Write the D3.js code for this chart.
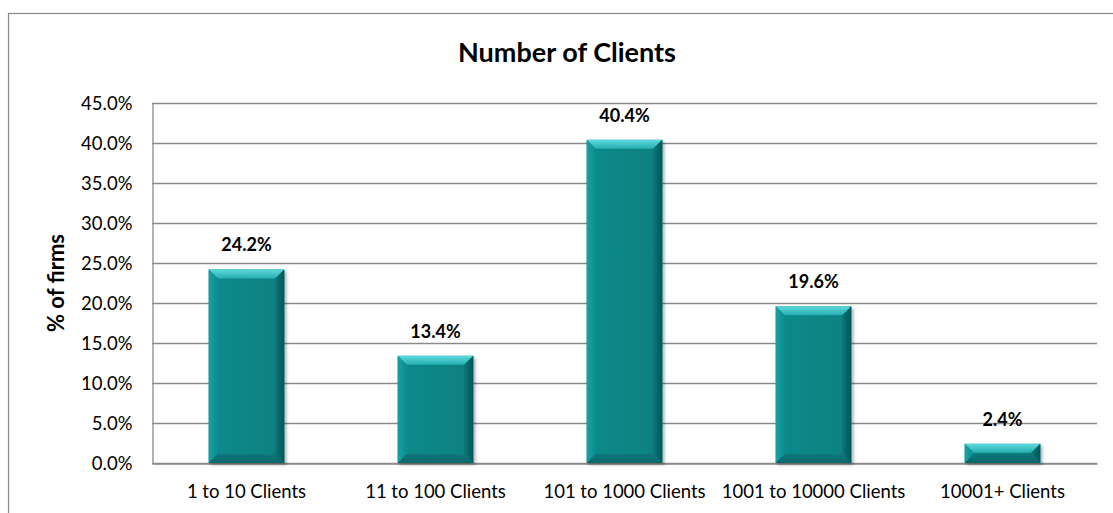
<!DOCTYPE html>
<html>
<head>
<meta charset="utf-8">
<script src="https://cdn.jsdelivr.net/npm/d3@7"></script>
<style>
html,body{margin:0;padding:0;background:#fff;}
svg{display:block;}
text{font-family:Lato,"Noto Sans",sans-serif;fill:#000;}
</style>
</head>
<body>
<svg id="chart" width="1113" height="513"></svg>
<script>
const categories = ["1 to 10 Clients","11 to 100 Clients","101 to 1000 Clients","1001 to 10000 Clients","10001+ Clients"];
const values = [24.2, 13.4, 40.4, 19.6, 2.4];
const yTicks = [0,5,10,15,20,25,30,35,40,45];
const title = "Number of Clients";
const yLabel = "% of firms";

const svg = d3.select("#chart");
const m = {left:152, right:1097, top:103, bottom:463};

// outer chart border (extends past right and bottom edges)
svg.append("rect").attr("x",8.5).attr("y",13.5).attr("width",1200).attr("height",600)
  .attr("fill","none").attr("stroke","#898989").attr("stroke-width",1.2);

const x = d3.scaleBand().domain(categories).range([m.left,m.right]).paddingInner(0.6).paddingOuter(0.3);
const y = d3.scaleLinear().domain([0,45]).range([m.bottom,m.top]);

const defs = svg.append("defs");
function lg(id, horiz, c0, c1){
  const g = defs.append("linearGradient").attr("id",id).attr("x1",0).attr("y1",0).attr("x2",horiz?1:0).attr("y2",horiz?0:1);
  g.append("stop").attr("offset","0%").attr("stop-color",c0);
  g.append("stop").attr("offset","100%").attr("stop-color",c1);
}
lg("gTop", false, "#5fdadc", "#25aeb0");
lg("gMain", true, "#0b8a8c", "#08807f");
lg("gRight", true, "#087477", "#045759");
lg("gLeft", true, "#17a0a2", "#0d8d8f");
lg("gBot", false, "#0a7779", "#05676a");
const shadow = defs.append("filter").attr("id","shadow").attr("x","-20%").attr("y","-20%").attr("width","140%").attr("height","140%");
shadow.append("feGaussianBlur").attr("in","SourceAlpha").attr("stdDeviation",1.8);
shadow.append("feOffset").attr("dx",2).attr("dy",2).attr("result","b");
shadow.append("feComponentTransfer").append("feFuncA").attr("type","linear").attr("slope",0.3);
const fm = shadow.append("feMerge");
fm.append("feMergeNode");
fm.append("feMergeNode").attr("in","SourceGraphic");

// gridlines
svg.append("g").selectAll("line").data(yTicks).join("line")
  .attr("x1",m.left).attr("x2",m.right)
  .attr("y1",d=>Math.round(y(d))+0.5).attr("y2",d=>Math.round(y(d))+0.5)
  .attr("stroke","#8a8a8a").attr("stroke-width",1.3);

// y axis
const yAxis = d3.axisLeft(y).tickValues(yTicks).tickSize(0).tickPadding(20).tickFormat(d=>d.toFixed(1)+"%");
const ga = svg.append("g").attr("transform",`translate(${m.left+0.5},0)`).call(yAxis);
ga.select(".domain").attr("stroke","#8a8a8a").attr("stroke-width",1.3);
ga.selectAll("text").attr("font-size",18.5).attr("font-family","Lato").attr("fill","#000").attr("dy","0.36em");

// x axis
const xAxis = d3.axisBottom(x).tickSize(0);
const gx = svg.append("g").attr("transform",`translate(0,${m.bottom+0.5})`).call(xAxis);
gx.select(".domain").attr("stroke","#8a8a8a").attr("stroke-width",1.3);
gx.selectAll("text").attr("font-size",18.5).attr("font-family","Lato").attr("fill","#000").attr("y",34.5).attr("dy",0);

// bars
const bev = 9;
const bars = svg.append("g").selectAll("g").data(values).join("g").attr("filter","url(#shadow)");
bars.each(function(v,i){
  const g = d3.select(this);
  const x0 = x(categories[i]), x1 = x0 + x.bandwidth();
  const y0 = y(v), y1 = y(0);
  const b = Math.min(bev, (y1-y0)/2);
  g.append("rect").attr("x",x0).attr("y",y0).attr("width",x1-x0).attr("height",y1-y0).attr("fill","url(#gMain)");
  g.append("path").attr("d",`M${x0},${y0}L${x1},${y0}L${x1-b},${y0+b}L${x0+b},${y0+b}Z`).attr("fill","url(#gTop)");
  g.append("path").attr("d",`M${x0},${y0}L${x0+b},${y0+b}L${x0+b},${y1-b}L${x0},${y1}Z`).attr("fill","url(#gLeft)");
  g.append("path").attr("d",`M${x1},${y0}L${x1-b},${y0+b}L${x1-b},${y1-b}L${x1},${y1}Z`).attr("fill","url(#gRight)");
  g.append("path").attr("d",`M${x0},${y1}L${x0+b},${y1-b}L${x1-b},${y1-b}L${x1},${y1}Z`).attr("fill","url(#gBot)");
});

// data labels
svg.append("g").selectAll("text").data(values).join("text")
  .attr("x",(d,i)=>x(categories[i])+x.bandwidth()/2)
  .attr("y",d=>y(d)-18)
  .attr("text-anchor","middle").attr("font-size",18).attr("font-weight","bold")
  .text(d=>d.toFixed(1)+"%");

// title
svg.append("text").attr("x",567).attr("y",62).attr("text-anchor","middle")
  .attr("font-size",27).attr("font-weight","bold").text(title);

// y label
svg.append("text").attr("transform",`translate(64,283) rotate(-90)`).attr("text-anchor","middle")
  .attr("font-size",22).attr("font-weight","bold").text(yLabel);
</script>
</body>
</html>
